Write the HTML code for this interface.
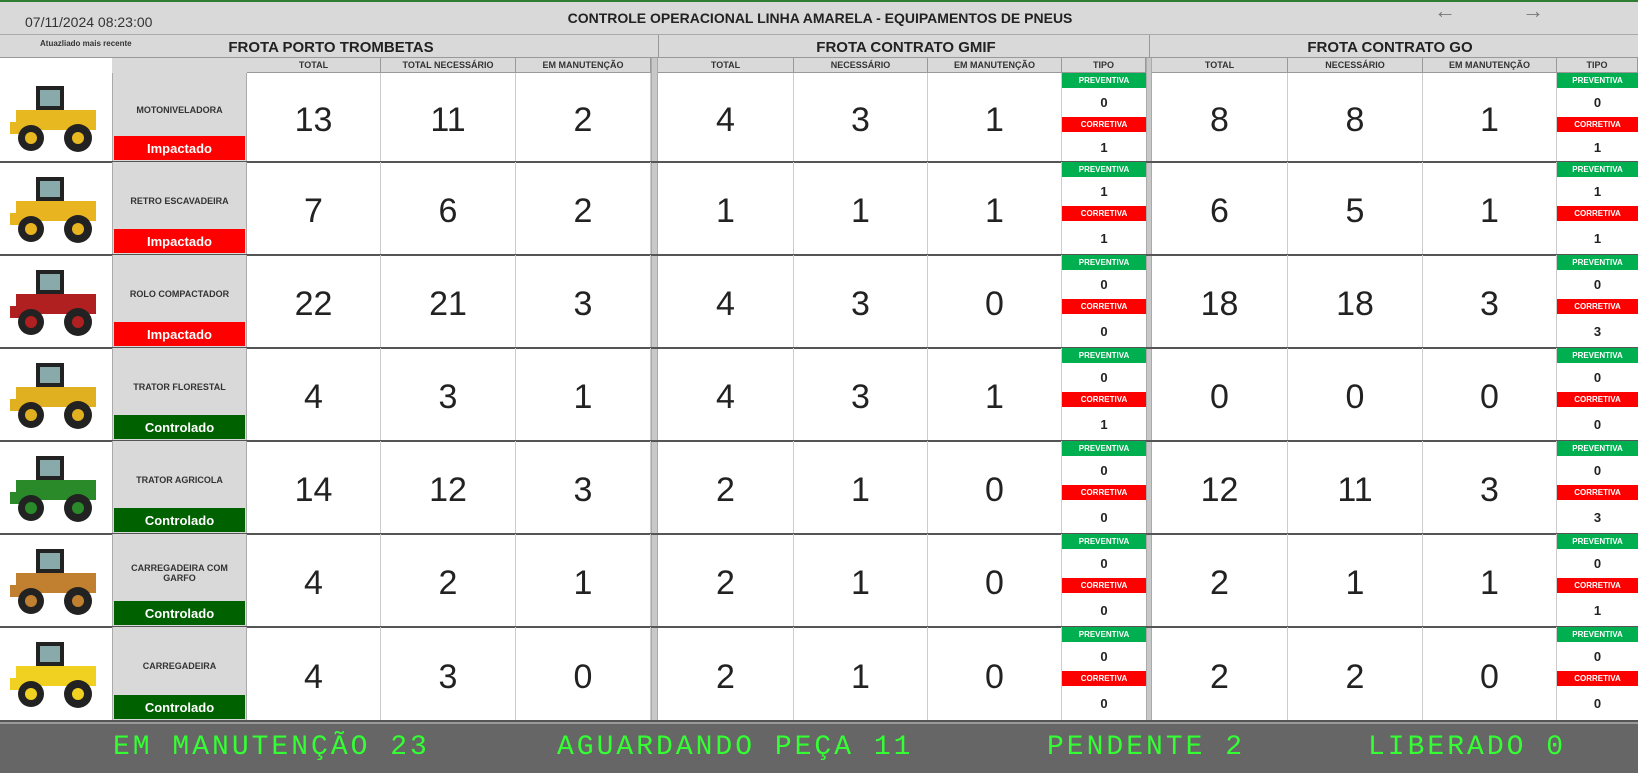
<!DOCTYPE html>
<html><head><meta charset="utf-8">
<style>
*{box-sizing:border-box;margin:0;padding:0}
body{width:1638px;height:773px;overflow:hidden;background:#fff;font-family:"Liberation Sans",sans-serif;position:relative}
.abs{position:absolute}
.hdr{background:#d9d9d9;}
.c{display:flex;align-items:center;justify-content:center;text-align:center}
.colh{font-size:9px;font-weight:bold;color:#333;border-right:1px solid #999;border-bottom:1px solid #999}
.big{font-size:34px;color:#222}
</style></head>
<body>
<div class="abs" style="left:0;top:0;width:1638px;height:2px;background:#2e7d32"></div>
<div class="abs hdr" style="left:0;top:2px;width:1638px;height:33px;border-bottom:1px solid #aaa"></div>
<div class="abs" style="left:25px;top:14px;font-size:14px;color:#333">07/11/2024 08:23:00</div>
<div class="abs" style="left:480px;top:10px;width:680px;text-align:center;font-size:14px;font-weight:bold;color:#222">CONTROLE OPERACIONAL LINHA AMARELA - EQUIPAMENTOS DE PNEUS</div>
<div class="abs" style="left:1434px;top:-2px;font-size:22px;color:#777">&#8592;</div>
<div class="abs" style="left:1522px;top:-2px;font-size:22px;color:#777">&#8594;</div>
<div class="abs hdr" style="left:0;top:35px;width:1638px;height:23px;border-bottom:1px solid #999"></div>
<div class="abs" style="left:40px;top:39px;font-size:8px;font-weight:bold;color:#333">Atuazliado mais recente</div>
<div class="abs c" style="left:0;top:36px;width:662px;height:22px;font-size:15px;font-weight:bold;color:#222">FROTA PORTO TROMBETAS</div>
<div class="abs" style="left:658px;top:35px;width:1px;height:23px;background:#999"></div>
<div class="abs c" style="left:662px;top:36px;width:488px;height:22px;font-size:15px;font-weight:bold;color:#222">FROTA CONTRATO GMIF</div>
<div class="abs" style="left:1149px;top:35px;width:1px;height:23px;background:#999"></div>
<div class="abs c" style="left:1152px;top:36px;width:476px;height:22px;font-size:15px;font-weight:bold;color:#222">FROTA CONTRATO GO</div>
<div id="grid"></div>
<div class="abs" style="left:0;top:722px;width:1638px;height:51px;background:#666;border-top:2px solid #999"></div>
<div id="summary"></div>
<script>
const equipment=["MOTONIVELADORA","RETRO ESCAVADEIRA","ROLO COMPACTADOR","TRATOR FLORESTAL","TRATOR AGRICOLA","CARREGADEIRA COM GARFO","CARREGADEIRA"];
const status=["Impactado","Impactado","Impactado","Controlado","Controlado","Controlado","Controlado"];
const ptTotal=[13,7,22,4,14,4,4];
const ptNeeded=[11,6,21,3,12,2,3];
const ptMaint=[2,2,3,1,3,1,0];
const gmTotal=[4,1,4,4,2,2,2];
const gmNeeded=[3,1,3,3,1,1,1];
const gmMaint=[1,1,0,1,0,0,0];
const gmPrev=[0,1,0,0,0,0,0];
const gmCorr=[1,1,0,1,0,0,0];
const goTotal=[8,6,18,0,12,2,2];
const goNeeded=[8,5,18,0,11,1,2];
const goMaint=[1,1,3,0,3,1,0];
const goPrev=[0,1,0,0,0,0,0];
const goCorr=[1,1,3,0,3,1,0];
const summaryLabels=["EM MANUTENÇÃO","AGUARDANDO PEÇA","PENDENTE","LIBERADO"];
const summaryValues=[23,11,2,0];

const g=document.getElementById('grid');
function box(l,t,w,h,css,html,name){const d=document.createElement('div');d.className='abs';d.style.cssText=`left:${l}px;top:${t}px;width:${w}px;height:${h}px;`+css;d.innerHTML=html;


g.appendChild(d);return d;}
const cols=[[247,381,"TOTAL"],[381,516,"TOTAL NECESSÁRIO"],[516,651,"EM MANUTENÇÃO"],[658,794,"TOTAL"],[794,928,"NECESSÁRIO"],[928,1062,"EM MANUTENÇÃO"],[1062,1146,"TIPO"],[1152,1288,"TOTAL"],[1288,1423,"NECESSÁRIO"],[1423,1557,"EM MANUTENÇÃO"],[1557,1638,"TIPO"]];
cols.forEach(c=>{const d=box(c[0],58,c[1]-c[0],15,'background:#d9d9d9;','<span>'+c[2]+'</span>','column-header');d.classList.add('c','colh');});
box(651,58,7,664,'background:#c8c8c8;border-left:1px solid #aaa;border-right:1px solid #aaa','','fleet-separator');
box(1146,58,6,664,'background:#c8c8c8;border-left:1px solid #aaa;border-right:1px solid #aaa','','fleet-separator');
box(112,58,135,15,'background:#d9d9d9','','header-blank');
const rowTop=[73,162,255,348,441,534,627,721];
const colors=['#e8b820','#e8b420','#b02020','#e0b020','#2a8a2a','#c08030','#f0d020'];
function vehicle(col){return `<svg width="100" height="80" viewBox="0 0 100 80"><rect x="30" y="8" width="28" height="26" fill="#222"/><rect x="34" y="12" width="20" height="16" fill="#8aa"/><rect x="10" y="32" width="80" height="20" fill="${col}"/><rect x="4" y="44" width="22" height="12" fill="${col}"/><circle cx="25" cy="60" r="13" fill="#222"/><circle cx="25" cy="60" r="6" fill="${col}"/><circle cx="72" cy="60" r="14" fill="#222"/><circle cx="72" cy="60" r="6" fill="${col}"/></svg>`;}
function tipo(l,w,t,h,p,c){
 box(l,t,w,15,'background:#00b050;color:#fff;font-size:8px;font-weight:bold;','<div class="c" style="height:15px">PREVENTIVA</div>','preventiva-label');
 box(l,t+15,w,29,'font-size:13px;font-weight:bold;color:#222','<div class="c" style="height:29px">'+p+'</div>','preventiva-value');
 box(l,t+44,w,15,'background:#f00;color:#fff;font-size:8px;font-weight:bold;','<div class="c" style="height:15px">CORRETIVA</div>','corretiva-label');
 box(l,t+59,w,h-59,'font-size:13px;font-weight:bold;color:#222','<div class="c" style="height:'+(h-59)+'px">'+c+'</div>','corretiva-value');
}
equipment.forEach((name,i)=>{
 const t=rowTop[i],h=rowTop[i+1]-t;
 box(0,t,112,h,'display:flex;align-items:center;justify-content:center',vehicle(colors[i]),'equipment-image');
 box(112,t,135,h,'background:#d9d9d9;border-left:1px solid #aaa;border-right:1px solid #aaa','','equipment-name-cell');
 box(112,t+12,135,h-40,'font-size:9px;font-weight:bold;color:#333;padding:0 8px','<div class="c" style="height:100%">'+name+'</div>','equipment-name');
 const ok=status[i]==='Controlado';
 box(114,t+h-26,131,24,'background:'+(ok?'#006100':'#f00')+';color:#fff;font-size:13px;font-weight:bold','<div class="c" style="height:24px">'+status[i]+'</div>','status-badge');
 const vals=[ptTotal[i],ptNeeded[i],ptMaint[i],gmTotal[i],gmNeeded[i],gmMaint[i],null,goTotal[i],goNeeded[i],goMaint[i],null];
 cols.forEach((c,j)=>{
  if(vals[j]===null)return;
  box(c[0],t,c[1]-c[0],h,'border-right:1px solid #ccc','<div class="c big" style="height:100%;padding-top:6px">'+vals[j]+'</div>','value-cell');
 });
 tipo(1062,84,t,h,gmPrev[i],gmCorr[i]);
 tipo(1557,81,t,h,goPrev[i],goCorr[i]);
 box(0,t+h-1,1638,2,'background:#555','','row-divider');
});
const s=document.getElementById('summary');
const sx=[113,557,1047,1368];
summaryLabels.forEach((l,i)=>{const d=document.createElement('div');d.className='abs';


d.style.cssText=`left:${sx[i]}px;top:732px;font-family:"Liberation Mono",monospace;font-size:28px;color:#33ff33;letter-spacing:3px`;
d.textContent=l+' '+summaryValues[i];s.appendChild(d);});
</script>
</body></html>
